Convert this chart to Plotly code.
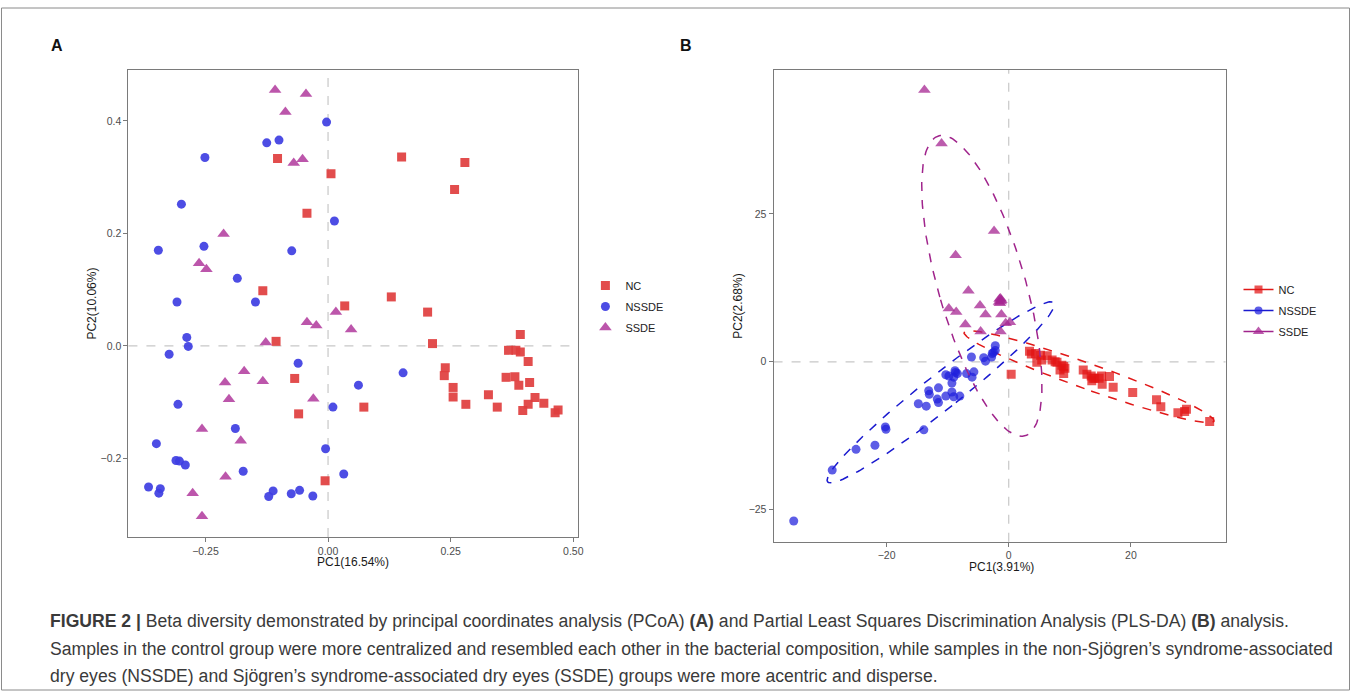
import numpy as np
import plotly.graph_objects as go

W, H = 1357, 695

# ---------------- Panel A (PCoA) ----------------
a_nc_x = [-0.103, 0.006, -0.043, -0.133, 0.034, 0.150, 0.279, 0.258, 0.129, 0.203, 0.392, 0.213, 0.368, 0.383,
          0.392, 0.408, 0.239, 0.237, 0.363, 0.381, 0.411, 0.389, 0.255, 0.255, 0.327, 0.281, 0.345, 0.422,
          0.440, 0.408, 0.397, 0.463, 0.469, 0.073, -0.106, -0.068, -0.060, -0.006]
a_nc_y = [0.333, 0.306, 0.236, 0.098, 0.071, 0.336, 0.326, 0.278, 0.087, 0.060, 0.020, 0.004, -0.008, -0.008,
          -0.011, -0.028, -0.039, -0.053, -0.056, -0.055, -0.065, -0.070, -0.074, -0.091, -0.087, -0.104, -0.109,
          -0.092, -0.102, -0.104, -0.115, -0.119, -0.114, -0.109, 0.008, -0.058, -0.121, -0.240]

a_nssde_x = [-0.003, -0.125, -0.100, -0.251, -0.299, 0.013, -0.346, -0.253, -0.074, -0.185, -0.308, -0.148,
             -0.288, -0.285, -0.324, -0.061, -0.306, 0.010, -0.189, -0.350, -0.005, -0.310, -0.303, -0.291,
             -0.173, 0.032, -0.366, -0.342, -0.345, -0.112, -0.121, -0.075, -0.058, -0.031, 0.153, 0.062]
a_nssde_y = [0.398, 0.361, 0.366, 0.335, 0.252, 0.222, 0.170, 0.177, 0.169, 0.120, 0.078, 0.078, 0.015, -0.001,
             -0.015, -0.031, -0.104, -0.109, -0.147, -0.174, -0.183, -0.204, -0.205, -0.212, -0.223, -0.228,
             -0.251, -0.254, -0.262, -0.258, -0.268, -0.263, -0.257, -0.267, -0.048, -0.070]

a_ssde_x = [-0.108, -0.045, -0.087, -0.070, -0.052, -0.213, -0.263, -0.248, 0.016, -0.043, -0.024, 0.047,
            -0.127, -0.171, -0.210, -0.133, -0.202, -0.030, -0.257, -0.178, -0.209, -0.276, -0.257]
a_ssde_y = [0.455, 0.448, 0.416, 0.325, 0.332, 0.199, 0.147, 0.136, 0.060, 0.042, 0.036, 0.029, 0.006,
            -0.045, -0.065, -0.063, -0.095, -0.094, -0.148, -0.169, -0.233, -0.262, -0.303]

a_xticks = [-0.25, 0.0, 0.25, 0.5]
a_xticklabels = ["\u22120.25", "0.00", "0.25", "0.50"]
a_yticks = [-0.2, 0.0, 0.2, 0.4]
a_yticklabels = ["\u22120.2", "0.0", "0.2", "0.4"]

# ---------------- Panel B (PLS-DA) ----------------
b_nc_x = [0.4, 3.4, 4.4, 5.2, 6.3, 4.6, 7.1, 7.9, 8.7, 9.0, 9.2, 9.0, 12.2, 13.5, 13.6, 14.1, 15.2, 15.3, 16.5,
          17.1, 20.3, 24.2, 24.9, 27.7, 28.8, 29.1, 32.9, 5.4, 7.6, 12.8, 13.8, 14.8, 8.4, 3.7]
b_nc_y = [-2.1, 1.8, 1.4, 1.1, 1.0, -0.1, 0.3, -0.1, -0.6, -2.0, -1.1, -0.8, -1.4, -2.4, -3.2, -2.8, -2.4, -3.8,
          -2.5, -4.3, -5.2, -6.4, -7.6, -8.6, -8.4, -8.0, -10.1, 0.3, 0.0, -2.1, -2.8, -2.8, -1.4, 1.3]

b_nssde_x = [-35.2, -28.9, -25.0, -21.9, -20.2, -20.1, -13.9, -14.8, -13.5, -13.1, -13.0, -11.5, -11.7, -11.5,
             -10.3, -9.3, -9.0, -8.0, -9.3, -9.8, -8.8, -8.4, -9.0, -6.9, -5.7, -6.0, -6.1, -4.1, -3.8, -2.8,
             -2.5, -2.2, -2.2, -2.7, -10.3, -8.7]
b_nssde_y = [-26.9, -18.3, -14.8, -14.1, -11.0, -11.4, -11.5, -7.1, -7.5, -4.9, -5.5, -4.4, -6.3, -6.9, -5.8,
             -5.1, -5.9, -5.8, -3.6, -2.4, -1.5, -2.0, -2.6, -2.0, -1.7, -2.6, 0.8, 0.7, 0.1, 0.8, 1.6, 2.7,
             1.9, 1.4, -2.2, -1.8]

b_ssde_x = [-13.8, -11.0, -2.4, -8.7, -6.6, -1.35, -1.6, -1.2, -1.45, -9.8, -8.6, -4.7, -3.8, -1.2, -7.1, -4.6,
            -1.35, -0.5, 0.2, -1.5, -1.3]
b_ssde_y = [45.9, 36.9, 22.1, 18.0, 12.0, 10.7, 10.1, 10.4, 9.9, 9.0, 8.4, 9.5, 8.0, 8.0, 6.3, 5.1, 5.1, 6.5,
            6.7, 10.6, 10.2]

b_xticks = [-20, 0, 20]
b_xticklabels = ["\u221220", "0", "20"]
b_yticks = [-25, 0, 25]
b_yticklabels = ["\u221225", "0", "25"]

groups = ["NC", "NSSDE", "SSDE"]
ELLIPSE_LEVEL_T = 2.4477  # sqrt(qchisq(0.95, 2))

caption_lines = [
    "<b>FIGURE 2 |</b> Beta diversity demonstrated by principal coordinates analysis (PCoA) <b>(A)</b> and Partial Least Squares Discrimination Analysis (PLS-DA) <b>(B)</b> analysis.",
    "Samples in the control group were more centralized and resembled each other in the bacterial composition, while samples in the non-Sjögren’s syndrome-associated",
    "dry eyes (NSSDE) and Sjögren’s syndrome-associated dry eyes (SSDE) groups were more acentric and disperse.",
]


def ellipse(xs, ys, t=ELLIPSE_LEVEL_T, n=200):
    X = np.column_stack([xs, ys])
    mu = X.mean(axis=0)
    C = np.cov(X.T)
    vals, vecs = np.linalg.eigh(C)
    ang = np.linspace(0, 2 * np.pi, n)
    circ = np.vstack([np.cos(ang), np.sin(ang)])
    pts = mu[:, None] + t * (vecs @ (np.sqrt(vals)[:, None] * circ))
    return pts[0], pts[1]


def px_x(p):
    return p / W


def px_y(p):
    return (H - p) / H


fig = go.Figure()

# Panel A traces
a_colors = ["rgba(224,62,62,0.92)", "rgba(62,62,226,0.92)", "rgba(182,72,164,0.92)"]
a_symbols = ["square", "circle", "triangle-up"]
a_sizes = [9, 9, 11]
for g, xs, ys, c, s, sz in zip(groups, [a_nc_x, a_nssde_x, a_ssde_x], [a_nc_y, a_nssde_y, a_ssde_y],
                               a_colors, a_symbols, a_sizes):
    fig.add_trace(go.Scatter(x=xs, y=ys, mode="markers", name=g, xaxis="x", yaxis="y", legend="legend",
                             legendgroup="A" + g,
                             marker=dict(color=c, symbol=s, size=sz, line=dict(width=0))))

# Panel B traces
b_colors = ["rgba(226,20,20,0.72)", "rgba(30,30,220,0.72)", "rgba(165,38,146,0.75)"]
b_line_colors = ["#E01818", "#1A1ACF", "#A0248C"]
b_sizes = [9, 9, 11]
for g, xs, ys, c, lc, s, sz in zip(groups, [b_nc_x, b_nssde_x, b_ssde_x], [b_nc_y, b_nssde_y, b_ssde_y],
                                   b_colors, b_line_colors, a_symbols, b_sizes):
    ex, ey = ellipse(xs, ys)
    fig.add_trace(go.Scatter(x=ex, y=ey, mode="lines", xaxis="x2", yaxis="y2", showlegend=False,
                             legendgroup="B" + g,
                             line=dict(color=lc, width=1.5, dash="dash"), hoverinfo="skip"))
    fig.add_trace(go.Scatter(x=xs, y=ys, mode="markers", name=g, xaxis="x2", yaxis="y2", showlegend=False,
                             legendgroup="B" + g,
                             marker=dict(color=c, symbol=s, size=sz, line=dict(width=0))))
for g, c, lc, s, sz in zip(groups, b_colors, b_line_colors, a_symbols, b_sizes):
    fig.add_trace(go.Scatter(x=[None], y=[None], mode="lines+markers", name=g, xaxis="x2", yaxis="y2",
                             legend="legend2", legendgroup="B" + g, line=dict(color=lc, width=1.5),
                             marker=dict(color=c, symbol=s, size=sz - 1, line=dict(width=0))))

axis_common = dict(showgrid=False, zeroline=False, showline=True, mirror=True, linecolor="#7a7a7a",
                   linewidth=1, ticks="outside", ticklen=4, tickcolor="#7a7a7a",
                   tickfont=dict(family="Liberation Sans, Arial", size=10.5, color="#4d4d4d"))

fig.update_layout(
    width=W, height=H, autosize=False,
    margin=dict(l=0, r=0, t=0, b=0),
    paper_bgcolor="white", plot_bgcolor="white",
    font=dict(family="Liberation Sans, Arial", color="#222"),
    xaxis=dict(domain=[px_x(129), px_x(580.5)], range=[-0.407, 0.5095], tickvals=a_xticks,
               ticktext=a_xticklabels, anchor="y", **axis_common),
    yaxis=dict(domain=[px_y(537), px_y(70)], range=[-0.340, 0.4906], tickvals=a_yticks,
               ticktext=a_yticklabels, anchor="x", **axis_common),
    xaxis2=dict(domain=[px_x(777), px_x(1231)], range=[-38.5, 35.5], tickvals=b_xticks,
                ticktext=b_xticklabels, anchor="y2", **axis_common),
    yaxis2=dict(domain=[px_y(541.7), px_y(70)], range=[-30.4, 49.3], tickvals=b_yticks,
                ticktext=b_yticklabels, anchor="x2", **axis_common),
    legend=dict(x=px_x(588), y=px_y(271), xanchor="left", yanchor="top", bgcolor="rgba(0,0,0,0)",
                font=dict(size=11, color="#222"), itemwidth=30, tracegroupgap=2),
    legend2=dict(x=px_x(1244), y=px_y(275), xanchor="left", yanchor="top", bgcolor="rgba(0,0,0,0)",
                 font=dict(size=11, color="#222"), itemwidth=30, tracegroupgap=2),
)

# dashed zero reference lines
for xr, yr in [("x", "y"), ("x2", "y2")]:
    fig.add_shape(type="line", xref=xr, yref=yr + " domain", x0=0, x1=0, y0=0, y1=1,
                  line=dict(color="#c8c8c8", width=1.2, dash="dash"), layer="below")
    fig.add_shape(type="line", xref=xr + " domain", yref=yr, x0=0, x1=1, y0=0, y1=0,
                  line=dict(color="#c8c8c8", width=1.2, dash="dash"), layer="below")

# outer figure frame
fig.add_shape(type="rect", xref="paper", yref="paper", x0=px_x(1.5), x1=px_x(1355.5), y0=px_y(690), y1=px_y(8),
              line=dict(color="#8a8a8a", width=1), fillcolor="rgba(0,0,0,0)")

ann = []


def add_text(text, x, y, size, color, xanchor="center", angle=0, family="Liberation Sans, Arial"):
    ann.append(dict(text=text, x=px_x(x), y=px_y(y), xref="paper", yref="paper", showarrow=False,
                    xanchor=xanchor, yanchor="middle", textangle=angle,
                    font=dict(size=size, color=color, family=family)))


# panel labels
add_text("<b>A</b>", 57, 45, 16, "#111")
add_text("<b>B</b>", 689, 45, 16, "#111")
# axis titles
add_text("PC1(16.54%)", 355, 562, 12, "#1a1a1a")
add_text("PC2(10.06%)", 92, 304, 12, "#1a1a1a", angle=-90)
add_text("PC1(3.91%)", 1006, 567, 12, "#1a1a1a")
add_text("PC2(2.68%)", 741, 306, 12, "#1a1a1a", angle=-90)
# caption
for i, line in enumerate(caption_lines):
    add_text(line, 48, 621 + 27.5 * i, 17.6, "#3a3a3a", xanchor="left")
fig.update_layout(annotations=ann)

fig.write_html(
    "out.html",
    config={"displayModeBar": False, "responsive": False},
    default_width="1357px", default_height="695px",
    post_script="document.body.style.margin='0';document.body.style.overflow='hidden';"
                "document.documentElement.style.overflow='hidden';",
)
